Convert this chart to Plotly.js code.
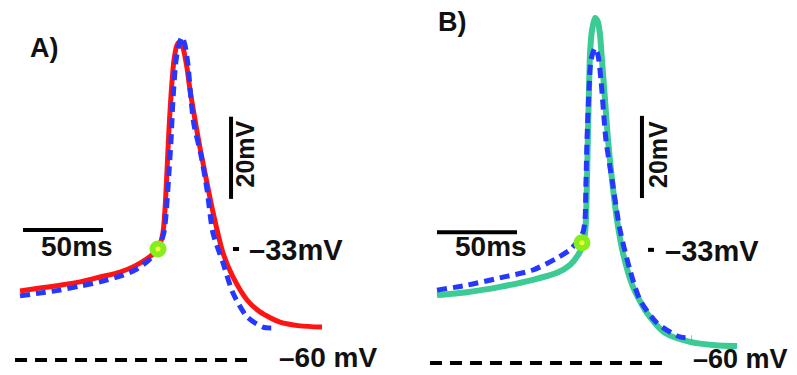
<!DOCTYPE html>
<html>
<head>
<meta charset="utf-8">
<script src="https://cdn.plot.ly/plotly-3.0.1.min.js"></script>
<style>html,body{margin:0;padding:0;background:#fff;}#chart{width:797px;height:375px;}</style>
</head>
<body>
<div id="chart"></div>
<script>
// Panel A: red (recorded) vs blue dashed (model), time in ms, voltage in mV
const aRedT = [0, 12.5, 25, 37.5, 50, 62.5, 71.9, 80, 84.4, 87.5, 89.4, 90.6, 91.9, 93.1, 94.4, 96.25, 98.1, 100, 101.9, 104.4, 106.25, 109.4, 112.5, 116.25, 120.6, 126.9, 133.1, 141.9, 150, 162.5, 175, 188.75];
const aRedV = [-43.2, -42.5, -41.8, -41.0, -39.8, -38.6, -37.1, -35.2, -33.7, -31.8, -28.9, -23.5, -13.8, -4.0, 4.5, 13.0, 16.6, 17.4, 15.9, 11.0, 5.7, -1.6, -8.4, -15.7, -24.0, -34.0, -39.8, -45.4, -48.3, -50.8, -51.7, -52.0];
const aBlueT = [0, 12.5, 25, 37.5, 50, 62.5, 71.9, 80, 84.4, 87.5, 90, 91.25, 92.8, 94.4, 95.6, 97.2, 98.75, 101.25, 103.1, 105, 106.9, 108.75, 113.1, 116.9, 120.6, 126.9, 133.1, 141.9, 151.9, 160.6];
const aBlueV = [-44.4, -43.7, -43.0, -42.0, -41.0, -39.6, -38.1, -35.9, -34.0, -32.0, -28.9, -24.7, -16.2, -6.5, 3.3, 11.8, 15.9, 18.6, 16.6, 11.8, 3.3, -2.8, -10.1, -18.6, -29.1, -36.4, -43.7, -49.5, -52.0, -52.2];
const aDotT = [86.25];
const aDotV = [-33.0];

// Panel B: green (recorded) vs blue dashed (model)
const bGreenT = [0, 18.75, 39.4, 60, 75, 83.1, 88.1, 91.25, 92.5, 93.1, 93.75, 94.4, 95, 95.6, 96.9, 98.75, 100.6, 101.9, 103.1, 105, 106.9, 109.4, 112.5, 116.25, 122.5, 131.25, 142.5, 158.1, 173.75, 187.5];
const bGreenV = [-44.2, -43.5, -42.2, -40.5, -38.8, -36.9, -34.5, -32.0, -29.1, -25.9, -16.2, -4.0, 5.7, 14.2, 20.3, 23.2, 22.2, 19.1, 13.0, 3.3, -6.5, -16.2, -25.9, -34.0, -42.2, -48.6, -53.4, -55.6, -56.4, -56.6];
const bBlueT = [0, 18.75, 39.4, 60, 75, 83.1, 87.5, 91.25, 92.5, 93.1, 93.75, 95, 96.25, 98.75, 100.6, 102.5, 103.75, 105.6, 109.4, 114.4, 120.6, 126.9, 137.5, 151.9, 159.4];
const bBlueV = [-43.0, -41.8, -40.0, -38.1, -35.2, -33.2, -31.3, -28.9, -25.9, -16.9, -6.5, 5.7, 13.0, 15.9, 14.2, 8.1, 2.0, -6.5, -16.2, -28.4, -38.1, -45.4, -51.0, -54.4, -54.6];
const bDotT = [90.6];
const bDotV = [-31.5];

const panelLabels = ['A)', 'B)'];
const timeBarLabel = '50ms';
const voltBarLabel = '20mV';
const thresholdLabel = '–33mV';
const restLabel = '–60 mV';
const restV = -60;
const thresholdV = -33;

const RED = '#ff1414', BLUE = '#2638ff', GREEN = '#3ccb95';
const FONT = 'Liberation Sans, Arial, sans-serif';

function sp(x, y, xa, color, width, dash) {
  return {x: x, y: y, xaxis: xa, yaxis: 'y', type: 'scatter', mode: 'lines',
    line: {color: color, width: width, dash: dash || 'solid', shape: 'spline', smoothing: 0.7},
    hoverinfo: 'skip', showlegend: false};
}
function dot(x, y, xa) {
  return {x: x, y: y, xaxis: xa, yaxis: 'y', type: 'scatter', mode: 'markers',
    marker: {size: 11, color: '#f2ff3a', line: {color: '#86ee1c', width: 6}},
    hoverinfo: 'skip', showlegend: false};
}

const data = [
  sp(aRedT, aRedV, 'x', RED, 5),
  sp(aBlueT, aBlueV, 'x', BLUE, 5, '10px,6px'),
  dot(aDotT, aDotV, 'x'),
  sp(bGreenT, bGreenV, 'x2', GREEN, 6),
  sp(bBlueT, bBlueV, 'x2', BLUE, 5, '10px,6px'),
  dot(bDotT, bDotV, 'x2')
];

function txt(xr, x, y, text, size, xanchor, angle) {
  return {xref: xr, yref: 'y', x: x, y: y, text: text, showarrow: false,
    xanchor: xanchor || 'center', yanchor: 'middle', textangle: angle || 0,
    font: {family: FONT, size: size, color: '#111', weight: 'bold'}};
}
function seg(xr, x0, y0, x1, y1, w, dash) {
  return {type: 'line', xref: xr, yref: 'y', x0: x0, y0: y0, x1: x1, y1: y1,
    line: {color: '#000', width: w, dash: dash || 'solid'}, layer: 'above'};
}

const shapes = [
  // Panel A
  seg('x', 1.9, -28.4, 51.9, -28.4, 4),
  seg('x', 131.9, -20.8, 131.9, -0.8, 4),
  seg('x', 133.1, thresholdV, 136.9, thresholdV, 4),
  seg('x', -3.1, restV, 143.75, restV, 4, '12px,8px'),
  // Panel B
  seg('x2', 0, -28.9, 50, -28.9, 4),
  seg('x2', 128.1, -20.6, 128.1, -0.6, 4),
  seg('x2', 131.9, thresholdV - 0.2, 135.6, thresholdV - 0.2, 4),
  seg('x2', -4.4, restV - 0.7, 143.75, restV - 0.7, 4, '12px,8px')
];

const annotations = [
  txt('x', 15.6, 15.9, panelLabels[0], 27),
  txt('x', 35.5, -32.3, timeBarLabel, 28),
  txt('x', 140, -10, voltBarLabel, 25, 'center', -90),
  txt('x', 141.8, -33.2, thresholdLabel, 29, 'left'),
  txt('x', 160.5, -59.5, restLabel, 28, 'left'),
  txt('x2', 9.4, 22.2, panelLabels[1], 27),
  txt('x2', 33.6, -32.3, timeBarLabel, 28),
  txt('x2', 137.8, -10, voltBarLabel, 25, 'center', -90),
  txt('x2', 141.2, -33.4, thresholdLabel, 29, 'left'),
  txt('x2', 158.5, -59.8, restLabel, 27, 'left')
];

const layout = {
  width: 797, height: 375,
  margin: {l: 0, r: 0, t: 0, b: 0},
  paper_bgcolor: '#fff', plot_bgcolor: '#fff',
  xaxis: {domain: [0, 0.5], range: [-12.5, 236.56], visible: false, fixedrange: true},
  xaxis2: {domain: [0.5, 1], range: [-24.06, 225], visible: false, fixedrange: true, anchor: 'y'},
  yaxis: {domain: [0, 1], range: [-63.65, 27.59], visible: false, fixedrange: true},
  shapes: shapes,
  annotations: annotations,
  showlegend: false
};

Plotly.newPlot('chart', data, layout, {staticPlot: true, displayModeBar: false});
</script>
</body>
</html>
